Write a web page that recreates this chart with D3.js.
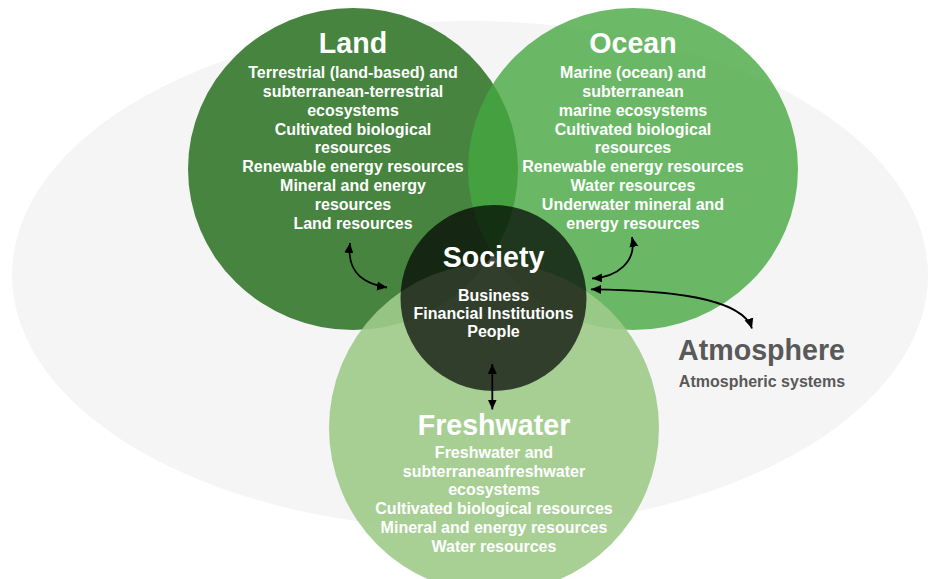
<!DOCTYPE html>
<html>
<head>
<meta charset="utf-8">
<script src="https://cdn.jsdelivr.net/npm/d3@7"></script>
<style>
  html, body { margin: 0; padding: 0; background: #ffffff; }
  svg { display: block; }
  text { font-family: "Liberation Sans", Arial, Helvetica, sans-serif; font-weight: bold; }
</style>
</head>
<body>
<script>
// ---- Data (content) ----
const realms = ["Land", "Ocean", "Freshwater"];
const landItems = [
  "Terrestrial (land-based) and",
  "subterranean-terrestrial",
  "ecosystems",
  "Cultivated biological",
  "resources",
  "Renewable energy resources",
  "Mineral and energy",
  "resources",
  "Land resources"
];
const oceanItems = [
  "Marine (ocean) and",
  "subterranean",
  "marine ecosystems",
  "Cultivated biological",
  "resources",
  "Renewable energy resources",
  "Water resources",
  "Underwater mineral and",
  "energy resources"
];
const freshwaterItems = [
  "Freshwater and",
  "subterraneanfreshwater",
  "ecosystems",
  "Cultivated biological resources",
  "Mineral and energy resources",
  "Water resources"
];
const societyTitle = "Society";
const societyItems = ["Business", "Financial Institutions", "People"];
const atmosphereTitle = "Atmosphere";
const atmosphereItems = ["Atmospheric systems"];

// ---- Layout (positions / styles) ----
const W = 929, H = 579;
const layout = {
  Land:       { cx: 353, cy: 169, rx: 165, ry: 161, fill: "#46843f", opacity: 1,    titleY: 52.5,  textY: 77.8,  lh: 18.9 },
  Ocean:      { cx: 633, cy: 169, rx: 165, ry: 161, fill: "rgb(69,167,64)", opacity: 0.79, titleY: 52.5, textY: 77.8, lh: 18.9 },
  Freshwater: { cx: 494, cy: 428, rx: 165, ry: 165, fill: "rgb(159,203,138)", opacity: 0.9, titleY: 434.5, textY: 457.8, lh: 18.8 }
};
const itemsBy = { Land: landItems, Ocean: oceanItems, Freshwater: freshwaterItems };

const svg = d3.select("body").append("svg")
  .attr("width", W).attr("height", H)
  .attr("viewBox", `0 0 ${W} ${H}`);

// Background ellipse (Atmosphere)
svg.append("ellipse")
  .attr("cx", 470).attr("cy", 275).attr("rx", 458).attr("ry", 254)
  .attr("fill", "#f5f5f5");

// Realm shapes
svg.append("g").selectAll("ellipse")
  .data(realms)
  .join("ellipse")
  .attr("cx", d => layout[d].cx)
  .attr("cy", d => layout[d].cy)
  .attr("rx", d => layout[d].rx)
  .attr("ry", d => layout[d].ry)
  .attr("fill", d => layout[d].fill)
  .attr("fill-opacity", d => layout[d].opacity);

// Society circle
svg.append("circle")
  .attr("cx", 493.5).attr("cy", 298).attr("r", 93)
  .attr("fill", "#000").attr("fill-opacity", 0.7);

// Realm titles and items
const TITLE_SIZE = 28.6, BODY_SIZE = 16;
const tg = svg.append("g").attr("fill", "#ffffff").attr("text-anchor", "middle");
realms.forEach(name => {
  const L = layout[name];
  tg.append("text")
    .attr("x", L.cx).attr("y", L.titleY)
    .attr("font-size", TITLE_SIZE)
    .text(name);
  tg.append("g").selectAll("text")
    .data(itemsBy[name])
    .join("text")
    .attr("x", L.cx)
    .attr("y", (d, i) => L.textY + i * L.lh)
    .attr("font-size", BODY_SIZE)
    .text(d => d);
});

// Society text
tg.append("text")
  .attr("x", 493.5).attr("y", 266.5)
  .attr("font-size", TITLE_SIZE)
  .text(societyTitle);
tg.append("g").selectAll("text")
  .data(societyItems)
  .join("text")
  .attr("x", 493.5)
  .attr("y", (d, i) => 300.5 + i * 18.4)
  .attr("font-size", BODY_SIZE)
  .text(d => d);

// Atmosphere text
const ag = svg.append("g").attr("fill", "#595959").attr("text-anchor", "middle");
ag.append("text")
  .attr("x", 761.5).attr("y", 360)
  .attr("font-size", TITLE_SIZE)
  .text(atmosphereTitle);
ag.append("g").selectAll("text")
  .data(atmosphereItems)
  .join("text")
  .attr("x", 762).attr("y", (d, i) => 386.5 + i * 18.8)
  .attr("font-size", BODY_SIZE)
  .text(d => d);

// Arrows
const defs = svg.append("defs");
defs.append("marker")
  .attr("id", "ah")
  .attr("markerUnits", "userSpaceOnUse")
  .attr("markerWidth", 11).attr("markerHeight", 10)
  .attr("refX", 10).attr("refY", 5)
  .attr("orient", "auto-start-reverse")
  .append("path")
  .attr("d", "M0,0.5 L10,5 L0,9.5 Z")
  .attr("fill", "#000");

function curve(p0, c1, c2, p1) {
  const p = d3.path();
  p.moveTo(p0[0], p0[1]);
  p.bezierCurveTo(c1[0], c1[1], c2[0], c2[1], p1[0], p1[1]);
  return p.toString();
}
const arrows = [
  curve([350, 243], [347, 268], [358, 283], [387, 287.5]),
  curve([632, 237], [637, 262], [617, 277], [592, 278.5]),
  curve([591, 289.3], [670, 290], [742, 298], [752, 328.5]),
  curve([492.3, 364], [492.3, 380], [492.3, 395], [492.3, 409.5])
];
svg.append("g").selectAll("path")
  .data(arrows)
  .join("path")
  .attr("d", d => d)
  .attr("fill", "none")
  .attr("stroke", "#000")
  .attr("stroke-width", 1.8)
  .attr("marker-start", "url(#ah)")
  .attr("marker-end", "url(#ah)");
</script>
</body>
</html>
